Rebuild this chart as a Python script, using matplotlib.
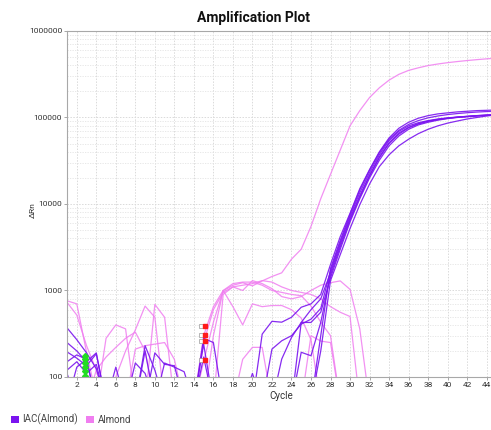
import matplotlib
matplotlib.use("Agg")
import matplotlib.pyplot as plt
from matplotlib.patches import Patch
from matplotlib.ticker import FixedLocator, FuncFormatter, LogLocator, NullFormatter

# Delta Rn per cycle (values < 100 fall below the axis)
cycles = list(range(1, 46))

iac_1 = [370, 270, 190, 125, 50, 50, 50, 50, 50, 50,
         50, 50, 50, 50, 280, 250, 50, 50, 50, 50,
         313, 440, 430, 490, 640, 700, 900, 2000, 4200, 7800,
         15000, 25000, 40000, 58000, 75000, 88000, 98000, 105000, 110000, 113000,
         116000, 118000, 120000, 121000, 122000]
iac_2 = [250, 200, 150, 190, 50, 50, 50, 50, 230, 120,
         50, 50, 50, 50, 50, 50, 50, 50, 50, 50,
         50, 210, 262, 300, 408, 466, 620, 1700, 3600, 7200,
         13500, 23000, 37000, 54000, 69000, 80000, 87000, 92000, 96000, 99000,
         101000, 103000, 105000, 106000, 107000]
iac_3 = [195, 165, 135, 185, 50, 50, 50, 50, 50, 190,
         140, 135, 50, 50, 50, 50, 50, 50, 50, 50,
         50, 50, 161, 286, 427, 600, 800, 1600, 3400, 6800,
         12500, 21500, 35000, 51000, 66000, 77000, 85000, 91000, 95000, 98000,
         101000, 103000, 105000, 107000, 108000]
iac_4 = [150, 180, 160, 50, 50, 130, 50, 145, 110, 50,
         50, 50, 50, 50, 50, 50, 50, 50, 50, 50,
         50, 50, 50, 50, 193, 176, 427, 1500, 3200, 6500,
         12000, 21000, 34000, 50000, 64000, 76000, 84000, 90000, 94500, 98000,
         100500, 102500, 104500, 106000, 107500]
iac_5 = [120, 150, 110, 140, 50, 50, 50, 50, 50, 50,
         145, 130, 115, 50, 50, 50, 50, 50, 50, 50,
         50, 50, 50, 50, 427, 427, 560, 1400, 3000, 6200,
         11500, 20000, 32000, 47000, 61000, 73000, 82000, 88000, 93000, 97000,
         100000, 102000, 104000, 105500, 106500]
iac_6 = [50, 130, 160, 50, 50, 50, 50, 50, 50, 50,
         50, 50, 50, 50, 240, 50, 50, 50, 50, 110,
         50, 50, 50, 50, 50, 50, 300, 1800, 3800, 7600,
         14500, 24500, 39000, 56000, 71000, 83000, 92000, 99000, 104000, 108000,
         111000, 113500, 115500, 117000, 118000]
iac_7 = [110, 50, 50, 50, 50, 50, 50, 50, 200, 50,
         50, 50, 50, 50, 170, 50, 50, 50, 50, 50,
         50, 50, 50, 50, 50, 50, 200, 1300, 2600, 5200,
         9800, 17000, 27000, 37000, 47000, 56000, 65000, 73000, 80000, 86000,
         91000, 96000, 100000, 104000, 107000]

alm_1 = [760, 700, 193, 60, 50, 50, 50, 50, 50, 50,
         50, 50, 50, 50, 150, 430, 990, 1150, 1230, 1130,
         1290, 1450, 1600, 2300, 3000, 5500, 11500, 22000, 42000, 80000,
         120000, 170000, 220000, 270000, 315000, 350000, 375000, 398000, 415000, 430000,
         443000, 455000, 466000, 476000, 485000]
alm_2 = [730, 520, 230, 120, 50, 50, 50, 210, 230, 240,
         250, 160, 50, 50, 50, 300, 1000, 1200, 1250, 1250,
         1150, 1000, 950, 900, 870, 660, 430, 300, 50, 50,
         50, 50, 50, 50, 50, 50, 50, 50, 50, 50,
         50, 50, 50, 50, 50]
alm_3 = [50, 50, 50, 50, 280, 400, 360, 50, 50, 50,
         50, 50, 50, 50, 300, 650, 1000, 650, 400, 700,
         650, 670, 670, 600, 480, 270, 50, 50, 50, 50,
         50, 50, 50, 50, 50, 50, 50, 50, 50, 50,
         50, 50, 50, 50, 50]
alm_4 = [50, 50, 50, 50, 50, 100, 200, 350, 660, 490,
         50, 50, 50, 50, 50, 50, 50, 50, 160, 220,
         220, 50, 50, 50, 50, 300, 260, 250, 50, 50,
         50, 50, 50, 50, 50, 50, 50, 50, 50, 50,
         50, 50, 50, 50, 50]
alm_5 = [50, 50, 50, 50, 50, 50, 50, 50, 50, 690,
         490, 50, 50, 50, 250, 600, 950, 1100, 1000, 1300,
         1200, 1050, 850, 800, 850, 1000, 1150, 1230, 1290, 1030,
         360, 50, 50, 50, 50, 50, 50, 50, 50, 50,
         50, 50, 50, 50, 50]
alm_6 = [50, 50, 50, 120, 170, 220, 280, 330, 200, 50,
         50, 50, 50, 50, 50, 50, 900, 1100, 1150, 1200,
         1300, 1250, 1100, 1000, 950, 900, 800, 650, 560, 500,
         50, 50, 50, 50, 50, 50, 50, 50, 50, 50,
         50, 50, 50, 50, 50]

iac_curves = [iac_1, iac_2, iac_3, iac_4, iac_5, iac_6, iac_7]
almond_curves = [alm_1, alm_2, alm_3, alm_4, alm_5, alm_6]

# baseline / threshold markers
green_cycle = 2.8
green_values = [175, 160, 145, 130, 116, 103]
red_cycle = 15.1
red_values = [387, 305, 260, 157]
box_cycle = 14.75

series_labels = ["IAC(Almond)", "Almond"]
iac_color = "#7a14ef"
almond_color = "#f07ef0"

plt.rcParams['font.family'] = ['Roboto', 'DejaVu Sans']

fig = plt.figure(figsize=(4.91, 4.30), dpi=100)
ax = fig.add_axes([0.1365, 0.1233, 0.8745, 0.8047])

for ys in almond_curves:
    ax.plot(cycles, ys, color=almond_color, linewidth=0.9, alpha=0.85)
for ys in iac_curves:
    ax.plot(cycles, ys, color=iac_color, linewidth=0.9, alpha=0.9)

ax.plot([green_cycle] * len(green_values), green_values, linestyle='none',
        marker='D', markersize=3, color='#22dd22')
ax.plot([box_cycle] * len(red_values), red_values, linestyle='none',
        marker='s', markersize=3, markerfacecolor='white', markeredgecolor='#999999',
        markeredgewidth=0.5)
ax.plot([red_cycle] * len(red_values), red_values, linestyle='none',
        marker='s', markersize=3.2, color='#ff1a1a')

ax.set_yscale('log')
ax.set_ylim(100, 1e6)
ax.set_xlim(1, 45)

ax.xaxis.set_major_locator(FixedLocator(list(range(2, 45, 2))))
ax.yaxis.set_major_locator(LogLocator(base=10))
ax.yaxis.set_minor_locator(LogLocator(base=10, subs=range(2, 10)))
ax.yaxis.set_minor_formatter(NullFormatter())
ax.yaxis.set_major_formatter(FuncFormatter(lambda v, p: '{:.0f}'.format(v)))

ax.grid(True, which='major', color='#dadada', linestyle=(0, (1.5, 1.5)), linewidth=0.7)
ax.grid(True, which='minor', axis='y', color='#e4e4e4', linestyle=(0, (1.5, 1.5)), linewidth=0.6)
ax.set_axisbelow(True)

for side in ['left', 'bottom', 'top']:
    ax.spines[side].set_color('#a8a8a8')
    ax.spines[side].set_linewidth(0.8)
ax.spines['right'].set_visible(False)

ax.tick_params(axis='both', which='major', length=2, width=0.6, color='#999999',
               labelsize=6, labelcolor='#333333', pad=1.5)
ax.tick_params(axis='y', which='minor', length=0)

ax.set_xlabel('Cycle', fontsize=7, color='#333333', labelpad=2)
fig.text(33 / 491, 1 - 210 / 430, 'ΔRn', rotation=90, fontsize=6,
         ha='center', va='center', color='#333333')
fig.text(0.517, 0.957, 'Amplification Plot', ha='center', va='center',
         fontsize=10, fontweight='bold', color='#111111')

handles = [Patch(facecolor=iac_color), Patch(facecolor=almond_color)]
fig.legend(handles, series_labels, loc='center left', bbox_to_anchor=(0.012, 0.024),
           ncol=2, frameon=False, fontsize=7, handlelength=0.8, handleheight=0.8,
           handletextpad=0.4, columnspacing=0.8, borderpad=0, labelcolor='#444444')

fig.savefig('out.png', dpi=100)
